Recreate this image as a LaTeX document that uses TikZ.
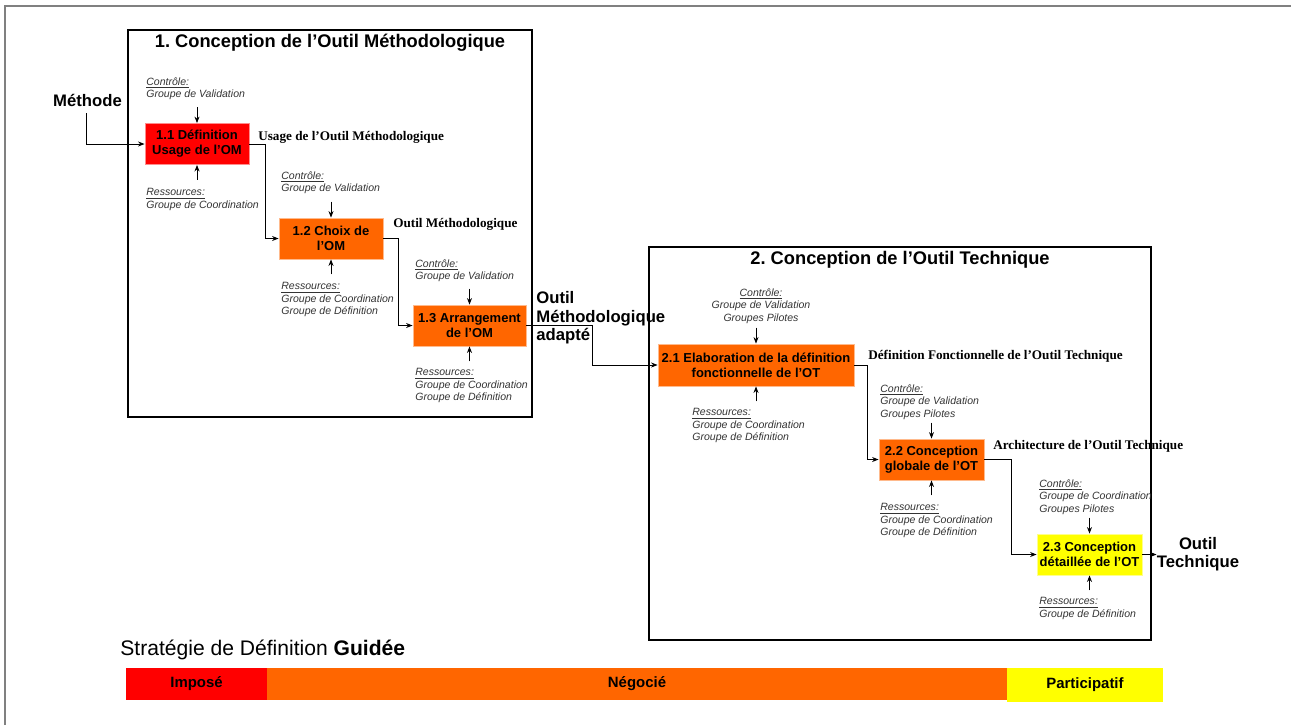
\documentclass[tikz,border=0pt]{standalone}
\usepackage{fontspec}
\setmainfont{Liberation Sans}
\newfontfamily\serifbf{Liberation Serif}
\usepackage{tikz}
\usetikzlibrary{positioning, arrows.meta, calc}
\frenchspacing

\definecolor{procred}{HTML}{FF0000}
\definecolor{procorange}{HTML}{FF6600}
\definecolor{procyellow}{HTML}{FFFF00}

\begin{document}
\begin{tikzpicture}[
    x=0.02cm, y=-0.02cm,
    proc/.style={rectangle, draw=#1!45!white, fill=#1, line width=0.5pt,
                 minimum height=0.82cm, inner sep=1pt,
                 font=\bfseries\fontsize{7.4}{8.6}\selectfont, align=center},
    note/.style={anchor=north west, inner sep=0pt, align=left,
                 font=\itshape\fontsize{6}{7.2}\selectfont, text=black!80},
    outlbl/.style={anchor=west, inner sep=0pt,
                   font=\serifbf\bfseries\fontsize{7.5}{9}\selectfont},
    flowlbl/.style={inner sep=0pt, font=\bfseries\fontsize{9.5}{10.6}\selectfont},
    title/.style={inner sep=0pt, font=\bfseries\fontsize{10.4}{12}\selectfont},
    band/.style={rectangle, fill=#1, minimum height=0.64cm, inner sep=0pt,
                 font=\bfseries\fontsize{8.5}{10}\selectfont},
    arr/.style={-{Stealth[length=1.3mm, width=1mm]}, line width=0.5pt},
    frame/.style={line width=0.8pt},
]
\useasboundingbox (0,0) rectangle (1291,725);

% Outer gray frame
\draw[gray, line width=1.1pt] (5,725) -- (5,6) -- (1291,6);

% Phase frames and titles
\draw[frame] (128,30) rectangle (532,417);
\draw[frame] (649,247) rectangle (1151,640);
\node[title] (t1) at (330,43) {1. Conception de l’Outil Méthodologique};
\node[title] (t2) at (900,260) {2. Conception de l’Outil Technique};

% Process boxes
\node[proc=procred, minimum width=2.08cm] (b11) at (197,144) {1.1 Définition\\Usage de l’OM};
\node[proc=procorange, minimum width=2.08cm] (b12) at (331,238.5) {1.2 Choix de\\l’OM};
\node[proc=procorange, minimum width=2.26cm] (b13) at (469.5,325.5) {1.3 Arrangement\\de l’OM};
\node[proc=procorange, minimum width=3.92cm, minimum height=0.84cm] (b21) at (756,365) {2.1 Elaboration de la définition\\fonctionnelle de l’OT};
\node[proc=procorange, minimum width=2.1cm] (b22) at (931.5,459.5) {2.2 Conception\\globale de l’OT};
\node[proc=procyellow, minimum width=2.1cm] (b23) at (1089.5,554.5) {2.3 Conception\\détaillée de l’OT};

% Controls and resources
\node[note] (c11) at (146,77) {\underline{Contrôle:}\\Groupe de Validation};
\node[note] (r11) at (146,188) {\underline{Ressources:}\\Groupe de Coordination};
\node[note] (c12) at (281,171) {\underline{Contrôle:}\\Groupe de Validation};
\node[note] (r12) at (281,282) {\underline{Ressources:}\\Groupe de Coordination\\Groupe de Définition};
\node[note] (c13) at (415,259) {\underline{Contrôle:}\\Groupe de Validation};
\node[note] (r13) at (415,368) {\underline{Ressources:}\\Groupe de Coordination\\Groupe de Définition};
\node[note, anchor=north, align=center] (c21) at (761,288) {\underline{Contrôle:}\\Groupe de Validation\\Groupes Pilotes};
\node[note] (r21) at (692,408) {\underline{Ressources:}\\Groupe de Coordination\\Groupe de Définition};
\node[note] (c22) at (880,384) {\underline{Contrôle:}\\Groupe de Validation\\Groupes Pilotes};
\node[note] (r22) at (880,503) {\underline{Ressources:}\\Groupe de Coordination\\Groupe de Définition};
\node[note] (c23) at (1039,479) {\underline{Contrôle:}\\Groupe de Coordination\\Groupes Pilotes};
\node[note] (r23) at (1039,597) {\underline{Ressources:}\\Groupe de Définition};

\foreach \b in {b11,b12,b13,b21,b22,b23} {
    \draw[arr] (\b.north) ++(0,-16) -- (\b.north);
    \draw[arr] (\b.south) ++(0,15) -- (\b.south);
}

% Flow labels
\node[flowlbl] (meth) at (87.5,100) {Méthode};
\node[outlbl] (o11) at (258,137) {Usage de l’Outil Méthodologique};
\node[outlbl] (o12) at (393,224) {Outil Méthodologique};
\node[flowlbl, anchor=west, align=left] (o13) at (536,318) {Outil\\Méthodologique\\adapté};
\node[outlbl] (o21) at (868,356) {Définition Fonctionnelle de l’Outil Technique};
\node[outlbl] (o22) at (993,446) {Architecture de l’Outil Technique};
\node[flowlbl, align=center] (o23) at (1198,554) {Outil\\Technique};

% Flow arrows
\coordinate (mstart) at (86,113);
\draw[arr] (mstart) |- (b11.west);
\draw[arr] (b11.east) -- ++(16,0) |- (b12.west);
\draw[arr] (b12.east) -- ++(15,0) |- (b13.west);
\draw[arr] (b13.east) -- ++(66,0) |- (b21.west);
\draw[arr] (b21.east) -- ++(13,0) |- (b22.west);
\draw[arr] (b22.east) -- ++(27,0) |- (b23.west);
\draw[arr] (b23.east) -- (b23.east -| o23.west);

% Strategy band
\node[anchor=west, inner sep=0pt, font=\fontsize{12}{14}\selectfont] (strat) at (120,650) {Stratégie de Définition \textbf{Guidée}};
\node[band=procred, minimum width=2.82cm] (imp) at (196.5,684) {Imposé};
\node[band=procorange, minimum width=14.8cm] (neg) at (637,684) {Négocié};
\node[band=procyellow, minimum width=3.12cm, minimum height=0.68cm] (part) at (1085,685) {Participatif};

\end{tikzpicture}
\end{document}
